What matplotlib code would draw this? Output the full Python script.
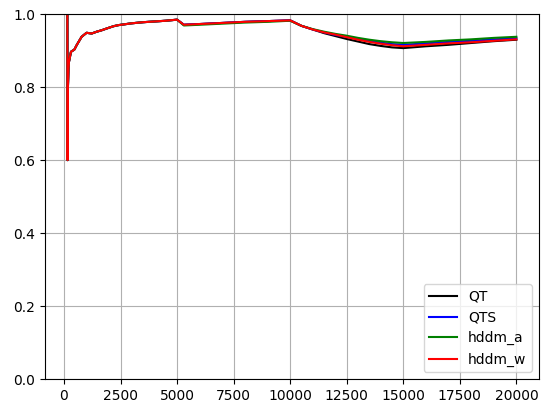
import numpy as np
import matplotlib
matplotlib.use('Agg')
import matplotlib.pyplot as plt

# evaluation points (number of samples seen)
steps = [150, 160, 175, 200, 220, 310, 460, 560, 780, 1000, 1225, 1450, 1670,
         1900, 2190, 2410, 3000, 3500, 4000, 4500, 5000, 5300, 6000, 7000,
         8000, 9000, 10000, 10500, 11000, 11500, 12000, 12500, 13000, 13500,
         14000, 14500, 15000, 16000, 17000, 18000, 19000, 20000]

# shared warm-up / first concept, identical for every detector
common = [1.0, 0.6, 0.80, 0.85, 0.869, 0.897, 0.903, 0.915, 0.938, 0.949,
          0.947, 0.952, 0.956, 0.961, 0.967, 0.970, 0.975, 0.978, 0.980,
          0.982, 0.985]

qt = common + [0.971, 0.973, 0.976, 0.979, 0.981, 0.983, 0.968, 0.958,
               0.948, 0.940, 0.932, 0.925, 0.918, 0.913, 0.909, 0.907,
               0.912, 0.916, 0.921, 0.926, 0.930]
qts = common + [0.971, 0.973, 0.976, 0.979, 0.981, 0.983, 0.968, 0.958,
                0.950, 0.943, 0.938, 0.932, 0.927, 0.922, 0.918, 0.916,
                0.920, 0.924, 0.927, 0.931, 0.934]
hddm_a = common + [0.969, 0.971, 0.974, 0.977, 0.979, 0.982, 0.968, 0.959,
                   0.952, 0.946, 0.941, 0.935, 0.930, 0.926, 0.923, 0.921,
                   0.924, 0.928, 0.931, 0.935, 0.938]
hddm_w = common + [0.971, 0.973, 0.976, 0.979, 0.981, 0.983, 0.968, 0.958,
                   0.950, 0.944, 0.937, 0.930, 0.924, 0.919, 0.915, 0.912,
                   0.916, 0.920, 0.923, 0.927, 0.931]

fig = plt.figure(figsize=(5.41, 4.05), dpi=100)
ax = fig.add_axes([0.083, 0.064, 0.913, 0.901])
ax.plot(steps, qt, color='black', label='QT')
ax.plot(steps, qts, color='blue', label='QTS')
ax.plot(steps, hddm_a, color='green', label='hddm_a')
ax.plot(steps, hddm_w, color='red', label='hddm_w')
ax.set_ylim(0, 1)
ax.grid(True)
ax.legend(loc='lower right')
fig.savefig('out.png', dpi=100)
